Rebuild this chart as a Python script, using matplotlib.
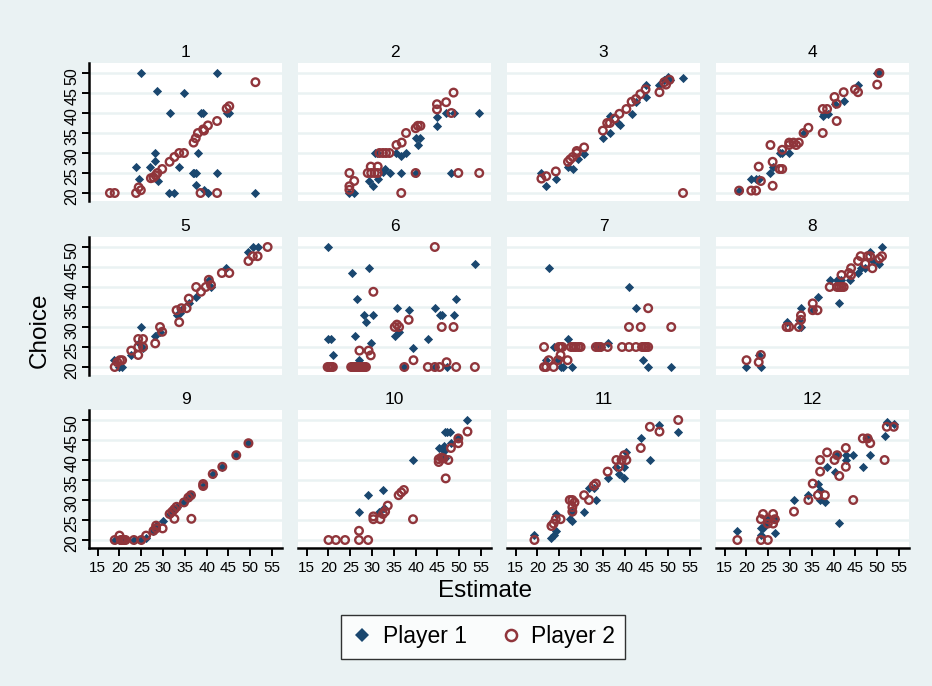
import numpy as np
import matplotlib
matplotlib.use("Agg")
import matplotlib.pyplot as plt
from matplotlib.lines import Line2D

# --- colours (Stata s2color look) ---
BG = '#eaf2f3'
BLUE = '#1a476f'
RED = '#90353b'

plt.rcParams['font.family'] = ['Liberation Sans', 'DejaVu Sans']

# --- data: estimate (x) and choice (y), per panel and player ---
est1_p1 = [24.9, 42.4, 28.7, 34.7, 31.5, 38.8, 39.2, 44.7, 45.1, 28.2, 28.2, 27.1, 23.8, 33.7, 38.0,
           24.4, 28.8, 36.8, 37.2, 37.6, 42.4, 37.5, 39.4, 31.4, 32.6, 40.3, 51.1]
cho1_p1 = [50, 50, 45.6, 45, 40, 40, 40, 40, 40, 30, 28, 26.6, 26.6, 26.6, 30,
           23.6, 22.9, 25, 25, 25, 25, 21.9, 20.8, 20, 20, 20, 20]
est1_p2 = [51.2, 44.6, 45.2, 42.4, 40.3, 39.2, 39.4, 38.0, 37.5, 37.0, 33.7, 34.8, 32.6, 31.5, 29.8,
           28.7, 28.3, 27.8, 27.2, 24.4, 24.9, 23.8, 17.8, 18.9, 38.6, 42.4]
cho1_p2 = [47.7, 41.1, 41.7, 38, 36.9, 35.9, 35.6, 35, 33.7, 32.6, 30, 30, 29, 27.8, 26,
           25, 24.4, 23.9, 23.7, 21.4, 20.7, 20, 20, 20, 20, 20]

est2_p1 = [24.8, 25.9, 30.3, 29.2, 31.3, 33.0, 32.4, 34.1, 36.7, 40.0, 48.2, 30.7, 31.2, 35.6, 36.7,
           37.8, 40.0, 41.1, 40.5, 44.9, 44.9, 47.0, 48.8, 54.6]
cho2_p1 = [20, 20, 21.8, 23, 23.5, 26, 25.2, 25, 25, 25, 25, 30, 30, 30, 29.2,
           30, 33.8, 33.8, 32, 36.8, 39.1, 40, 40, 40]
est2_p2 = [24.8, 25.9, 24.8, 24.8, 29.0, 29.8, 30.6, 31.3, 29.7, 31.3, 31.7, 32.5, 33.2, 34.0, 36.7,
           40.0, 49.8, 54.6, 35.6, 36.8, 37.8, 40.0, 40.5, 41.1, 44.9, 44.9, 47.0, 48.7, 48.2]
cho2_p2 = [25, 23, 21.7, 20.8, 25, 25, 25, 25, 26.6, 26.6, 30, 30, 30, 30, 20,
           25, 25, 25, 32, 32.6, 35, 36.2, 36.8, 36.8, 40.9, 42.2, 42.7, 45.1, 40]

est3_p1 = [20.9, 22.0, 24.2, 27.0, 28.1, 29.2, 30.7, 35.1, 36.6, 36.6, 38.4, 38.9, 41.6, 42.6, 44.8,
           44.8, 48.0, 49.1, 49.9, 50.3, 53.4]
cho3_p1 = [25, 21.8, 23.6, 26.6, 26, 28.4, 29.7, 33.7, 35, 39.2, 37.5, 36.9, 39.8, 42.8, 44,
           47.1, 47.1, 48.3, 49, 48.3, 48.8]
est3_p2 = [20.9, 22.0, 24.2, 27.0, 27.5, 28.1, 29.0, 29.0, 30.7, 35.0, 36.0, 36.6, 37.7, 38.8, 40.4,
           41.6, 42.6, 43.6, 44.8, 48.0, 49.1, 49.5, 50.3, 53.4]
cho3_p2 = [23.6, 24.2, 25.4, 27.8, 28.4, 29, 30, 30.5, 31.4, 35.6, 37.5, 37.5, 38.6, 39.8, 41,
           42.8, 43.5, 44.7, 45.9, 45.2, 47.7, 47.1, 48.3, 20]

est4_p1 = [18.3, 21.1, 22.2, 22.8, 25.5, 26.0, 27.6, 28.1, 29.8, 33.2, 37.5, 37.9, 38.6, 40.2, 42.3,
           45.6, 50.0, 50.5]
cho4_p1 = [20.6, 23.6, 23.6, 23.6, 25, 26.6, 30, 30, 30, 35, 39.2, 39.8, 39.8, 42.3, 42.9,
           47.1, 50, 50]
est4_p2 = [18.3, 21.1, 22.2, 23.3, 22.8, 26.0, 26.0, 27.6, 28.2, 28.2, 25.5, 29.8, 29.8, 30.8, 31.4,
           32.0, 33.1, 34.2, 37.5, 37.5, 38.5, 40.7, 40.2, 40.7, 42.3, 44.9, 45.6, 50.0, 50.5]
cho4_p2 = [20.6, 20.6, 20.6, 23, 26.6, 21.8, 27.8, 26, 26, 30.8, 32, 32, 32.6, 32.6, 32,
           32.6, 35, 36.3, 35, 41, 41, 38, 44, 42.3, 45.2, 45.9, 45.2, 47.1, 50]

est5_p1 = [18.7, 19.8, 20.6, 22.7, 24.4, 24.9, 25.4, 28.2, 29.3, 33.1, 33.8, 34.2, 35.9, 37.6, 41.0,
           40.5, 44.5, 49.6, 50.6, 51.7]
cho5_p1 = [21.7, 20, 20, 23, 25.9, 30, 24.7, 27.7, 28.8, 33, 33.6, 34.2, 35.9, 37.6, 40,
           41.8, 44.7, 48.8, 50, 50]
est5_p2 = [18.9, 19.5, 20.1, 20.6, 22.7, 24.3, 24.3, 24.3, 25.4, 25.4, 28.2, 29.3, 29.8, 33.1, 33.7,
           34.2, 35.4, 35.9, 37.6, 38.7, 39.8, 40.5, 41.0, 43.5, 45.2, 49.6, 50.6, 51.7, 54.0]
cho5_p2 = [20, 21.2, 21.7, 21.7, 24.1, 27, 25, 23, 27, 25, 25.9, 30, 28.8, 34.2, 31.2,
           34.7, 34.7, 37.1, 40, 38.8, 40, 41.8, 40.5, 43.5, 43.5, 46.5, 47.7, 47.7, 50]

est6_p1 = [20.0, 25.5, 29.2, 26.5, 28.1, 30.3, 28.7, 20.0, 20.6, 21.1, 26.0, 29.7, 27.1, 35.7, 38.4,
           35.2, 36.2, 39.5, 42.8, 44.4, 45.5, 46.0, 48.7, 49.3, 53.6, 37.4, 44.4, 47.1]
cho6_p1 = [50, 43.5, 44.7, 37.1, 32.9, 32.9, 31.2, 27, 27, 23, 27.7, 25.9, 21.7, 34.7, 34.2,
           27.7, 28.8, 24.7, 27, 34.7, 32.9, 32.9, 32.9, 37.1, 45.8, 20, 20, 20]
est6_p2 = [44.4, 30.3, 38.4, 35.2, 35.7, 36.2, 46.0, 48.7, 27.1, 29.2, 29.7, 39.5, 47.1,
           19.8, 20.2, 20.6, 21.0, 25.2, 25.6, 26.0, 26.3, 26.7, 27.1, 27.5, 27.9, 28.2, 28.6,
           37.4, 42.8, 44.4, 45.5, 49.3, 53.6]
cho6_p2 = [50, 38.8, 31.8, 30, 30.6, 30, 30, 30, 24.1, 24.1, 22.9, 21.7, 21.2,
           20, 20, 20, 20, 20, 20, 20, 20, 20, 20, 20, 20, 20, 20,
           20, 20, 20, 20, 20, 20]

est7_p1 = [22.6, 41.0, 42.6, 26.9, 33.4, 36.1, 23.7, 34.5, 22.0, 24.7, 25.5, 25.8, 28.0, 44.2, 45.3,
           50.7]
cho7_p1 = [44.7, 40, 34.7, 27, 25.3, 25.9, 25, 25, 21.7, 21.7, 20, 20, 20, 21.7, 20,
           20]
est7_p2 = [45.4, 41.0, 43.7, 50.7, 21.5, 24.9, 25.3, 25.7, 27.7, 28.3, 28.8, 29.4, 29.9, 33.4, 34.0,
           34.5, 36.1, 39.4, 41.0, 42.6, 44.0, 44.5, 44.9, 45.4, 25.3, 22.6, 24.7, 26.9, 21.5, 22.0,
           23.7]
cho7_p2 = [34.7, 30, 30, 30, 25, 25, 25, 25, 25, 25, 25, 25, 25, 25, 25,
           25, 25, 25, 25, 25, 25, 25, 25, 25, 23, 21.7, 21.7, 21.7, 20, 20,
           20]

est8_p1 = [20.0, 23.3, 22.8, 29.2, 32.0, 32.5, 32.5, 35.3, 36.3, 41.3, 39.1, 40.8, 41.3, 41.8, 43.8,
           45.6, 46.2, 47.3, 48.4, 49.0, 50.5, 51.1]
cho8_p1 = [20, 20, 23, 31.2, 31.8, 30, 34.7, 34.2, 37.6, 35.9, 41.8, 41.8, 41.8, 41.8, 41.8,
           43.5, 44.7, 44.7, 48.8, 46.5, 45.8, 50]
est8_p2 = [20.0, 22.8, 23.3, 29.2, 29.8, 32.0, 32.5, 32.5, 35.2, 35.2, 36.3, 39.1, 40.8, 41.3, 41.8,
           42.3, 41.8, 43.5, 44.0, 44.0, 45.6, 46.2, 47.3, 47.8, 48.4, 48.9, 50.5, 51.1]
cho8_p2 = [21.7, 21.2, 23, 30, 30, 30, 31.8, 32.9, 35.9, 34.2, 34.2, 40, 40, 40, 40,
           40, 43, 43.5, 44.7, 43, 46.5, 47.7, 45.8, 47.7, 47.7, 44.7, 47.1, 47.7]

est9_p1 = [18.9, 20.0, 20.3, 21.0, 23.3, 25.0, 26.1, 27.8, 28.4, 29.9, 31.5, 32.1, 32.6, 33.1, 34.8,
           35.8, 36.4, 39.2, 41.4, 43.6, 46.8, 49.6]
cho9_p1 = [20, 20, 20, 20, 20, 20, 20.4, 22.3, 23.6, 24.7, 26.5, 27.1, 27.7, 28.3, 29.4,
           30.6, 31.2, 33.5, 36.5, 38.3, 41.2, 44.2]
est9_p2 = [18.9, 20.0, 20.3, 20.6, 21.0, 21.4, 23.3, 25.0, 26.1, 27.8, 28.4, 28.4, 29.9, 31.5, 32.1,
           32.6, 33.1, 32.6, 34.8, 35.8, 36.4, 36.5, 39.2, 39.2, 41.4, 43.6, 46.8, 49.6]
cho9_p2 = [20, 21.1, 20, 20, 20, 20, 20, 20, 21.1, 22.3, 22.9, 23.6, 22.9, 26.5, 27.1,
           27.7, 28.3, 25.3, 29.4, 30.6, 31.2, 25.3, 34, 33.5, 36.5, 38.3, 41.2, 44.2]

est10_p1 = [51.9, 46.8, 47.3, 47.8, 48.1, 45.3, 46.4, 46.4, 49.8, 39.4, 29.1, 32.5, 27.0, 31.7, 32.7,
            46.4, 46.8]
cho10_p1 = [50, 47.1, 47.1, 47.1, 44.2, 42.9, 43.5, 42.3, 45.4, 40, 31.2, 32.4, 27.1, 27.1, 28.1,
            40.4, 40.4]
est10_p2 = [51.9, 49.8, 49.8, 48.1, 45.3, 45.9, 46.4, 47.5, 45.3, 46.9, 36.1, 36.7, 37.3, 30.3, 30.3,
            31.9, 32.5, 33.0, 33.6, 39.4, 27.0, 20.0, 21.7, 23.8, 27.0, 29.1]
cho10_p2 = [47.1, 45.4, 44.2, 43, 40.2, 40.6, 40.4, 40, 39.5, 35.4, 31.2, 31.9, 32.5, 25.9, 25.2,
            25.2, 26.5, 27.1, 28.6, 25.2, 22.3, 20, 20, 20, 20, 20]

est11_p1 = [19.3, 23.2, 23.7, 24.2, 24.2, 27.4, 28.0, 28.0, 30.7, 31.8, 33.5, 32.9, 36.1, 38.1, 38.7,
            39.9, 39.9, 40.4, 43.7, 45.8, 48.0, 52.3]
cho11_p1 = [21.2, 20.6, 21.2, 22.3, 26.5, 25.2, 24.7, 27.1, 27.1, 33, 30, 33, 35.4, 38.3, 36.5,
            38.3, 35.4, 41.9, 45.4, 40, 48.8, 47.1]
est11_p2 = [19.3, 23.2, 23.7, 24.2, 25.3, 27.4, 28.0, 28.5, 28.0, 28.0, 30.7, 31.8, 32.9, 33.4, 36.1,
            38.1, 38.7, 39.3, 39.9, 40.4, 43.7, 45.8, 48.0, 52.3]
cho11_p2 = [20, 23.5, 24.1, 25.2, 25.2, 30, 30, 29.4, 28.2, 27.1, 31.2, 30, 33.6, 34.1, 37.1,
            40, 38.3, 40, 41.2, 40, 43, 48.3, 47.1, 50]

est12_p1 = [17.9, 23.3, 23.8, 23.3, 24.4, 24.9, 26.5, 26.5, 30.9, 34.2, 36.4, 36.9, 36.9, 38.0, 38.5,
            40.2, 40.8, 42.8, 42.8, 44.5, 41.3, 46.7, 47.8, 48.4, 51.7, 52.2, 53.8]
cho12_p1 = [22.3, 22.9, 22.9, 21.2, 24.1, 25.2, 25.2, 21.7, 30, 31.2, 34.1, 32.4, 30, 29.4, 38.3,
            37.1, 41.2, 41.2, 40, 41.2, 24.2, 38.3, 45.4, 41.2, 46, 49.5, 48.9]
est12_p2 = [17.9, 23.3, 24.9, 23.3, 23.8, 24.9, 26.1, 26.1, 26.5, 24.9, 30.9, 34.2, 35.2, 36.4, 38.0,
            36.9, 36.9, 38.5, 40.2, 40.8, 41.3, 42.8, 42.8, 44.5, 46.7, 47.8, 48.4, 51.7, 52.2, 53.8]
cho12_p2 = [20, 20, 20, 25.2, 26.5, 25.2, 26.5, 24.1, 25.2, 24.1, 27.1, 30, 34.1, 31.2, 31.2,
            40, 37.1, 41.9, 40, 41.2, 36, 43, 38.3, 30, 45.4, 45.4, 44.2, 40, 48.3, 48.3]

panels = [
    (est1_p1, cho1_p1, est1_p2, cho1_p2), (est2_p1, cho2_p1, est2_p2, cho2_p2),
    (est3_p1, cho3_p1, est3_p2, cho3_p2), (est4_p1, cho4_p1, est4_p2, cho4_p2),
    (est5_p1, cho5_p1, est5_p2, cho5_p2), (est6_p1, cho6_p1, est6_p2, cho6_p2),
    (est7_p1, cho7_p1, est7_p2, cho7_p2), (est8_p1, cho8_p1, est8_p2, cho8_p2),
    (est9_p1, cho9_p1, est9_p2, cho9_p2), (est10_p1, cho10_p1, est10_p2, cho10_p2),
    (est11_p1, cho11_p1, est11_p2, cho11_p2), (est12_p1, cho12_p1, est12_p2, cho12_p2),
]

x_ticks = [15, 20, 25, 30, 35, 40, 45, 50, 55]
y_ticks = [20, 25, 30, 35, 40, 45, 50]

# --- figure ---
W, H = 932, 686
fig = plt.figure(figsize=(W / 100, H / 100), dpi=100, facecolor=BG)

lefts = [89, 298, 507, 716]
tops = [63, 237, 410]
aw, ah = 193, 138

for k, (x1, y1, x2, y2) in enumerate(panels):
    r, c = divmod(k, 4)
    ax = fig.add_axes([lefts[c] / W, 1 - (tops[r] + ah) / H, aw / W, ah / H])
    ax.set_facecolor('white')
    ax.scatter(x1, y1, marker='D', s=22, color=BLUE, linewidths=0, zorder=3)
    ax.scatter(x2, y2, marker='o', s=30, facecolors='none', edgecolors=RED, linewidths=1.7, zorder=4)
    ax.set_xlim(13.0, 57.3)
    ax.set_ylim(18.0, 52.5)
    ax.set_xticks(x_ticks)
    ax.set_yticks(y_ticks)
    ax.grid(axis='y', color=BG, lw=1.8)
    ax.grid(axis='x', visible=False)
    ax.set_axisbelow(True)
    for s in ax.spines.values():
        s.set_visible(False)
    ax.set_title(str(k + 1), fontsize=12.5, pad=4)
    if c == 0:
        ax.spines['left'].set_visible(True)
        ax.spines['left'].set_linewidth(1.8)
        ax.tick_params(axis='y', length=5, width=1.4, labelsize=11.5, labelrotation=90, pad=2)
    else:
        ax.tick_params(axis='y', left=False, labelleft=False)
    if r == 2:
        ax.spines['bottom'].set_visible(True)
        ax.spines['bottom'].set_linewidth(1.8)
        ax.tick_params(axis='x', length=6, width=1.4, labelsize=11, pad=3)
    else:
        ax.tick_params(axis='x', bottom=False, labelbottom=False)

fig.text(40 / W, 1 - 330 / H, 'Choice', rotation=90, fontsize=17.5, ha='center', va='center')
fig.text(485 / W, 1 - 591 / H, 'Estimate', fontsize=17.5, ha='center', va='center')

handles = [
    Line2D([], [], ls='none', marker='D', ms=7, color=BLUE, mew=0),
    Line2D([], [], ls='none', marker='o', ms=8, mfc='none', mec=RED, mew=1.8),
]
leg = fig.legend(handles, ['Player 1', 'Player 2'], loc='center', bbox_to_anchor=(483 / W, 1 - 637 / H),
                 ncol=2, fontsize=16.5, frameon=True, fancybox=False, edgecolor='black',
                 handletextpad=0.4, columnspacing=1.4, borderpad=0.45, handlelength=1.0)
leg.get_frame().set_linewidth(1.0)

fig.savefig('out.png', dpi=100, facecolor=BG)
